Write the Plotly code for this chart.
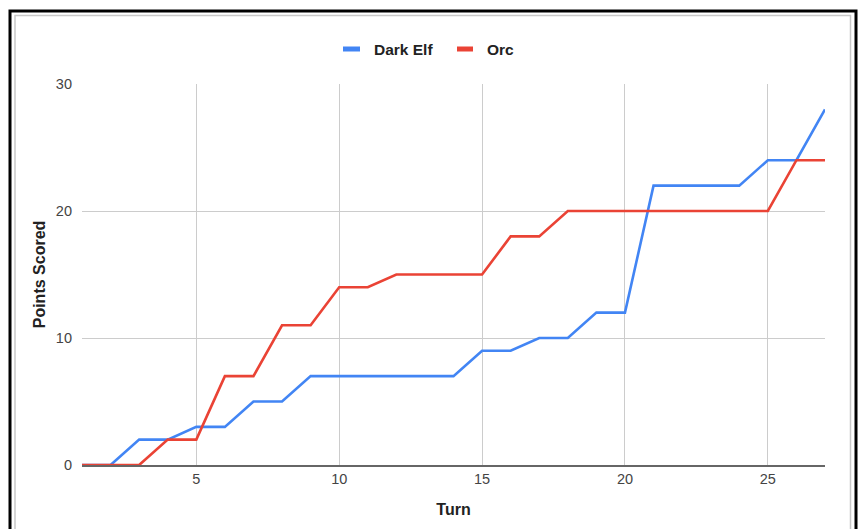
import plotly.graph_objects as go

turns = list(range(1, 28))
dark_elf = [0, 0, 2, 2, 3, 3, 5, 5, 7, 7, 7, 7, 7, 7, 9, 9, 10, 10, 12, 12, 22, 22, 22, 22, 24, 24, 28]
orc = [0, 0, 0, 2, 2, 7, 7, 11, 11, 14, 14, 15, 15, 15, 15, 18, 18, 20, 20, 20, 20, 20, 20, 20, 20, 24, 24]
series_names = ["Dark Elf", "Orc"]
series_colors = ["#4285F4", "#EA4335"]
x_ticks = [5, 10, 15, 20, 25]
y_ticks = [0, 10, 20, 30]

W, H = 861, 529
L, R, T, B = 82, 36, 84, 64
pw, ph = W - L - R, H - T - B

def px(x):
    return (x - L) / pw

def py(y):
    return (H - B - y) / ph

fig = go.Figure()
for name, vals, col in zip(series_names, [dark_elf, orc], series_colors):
    fig.add_trace(go.Scatter(x=turns, y=vals, mode="lines", name=name,
                             line=dict(color=col, width=2.6), showlegend=False))

font = "Liberation Sans, Arial, sans-serif"
fig.update_layout(
    width=W, height=H,
    margin=dict(l=L, r=R, t=T, b=B),
    paper_bgcolor="white", plot_bgcolor="white",
    font=dict(family=font, size=13, color="#444444"),
    showlegend=False,
    xaxis=dict(range=[1, 27], tickvals=x_ticks, showgrid=True, gridcolor="#cccccc",
               gridwidth=1, zeroline=False, showline=True, linecolor="#666666",
               linewidth=2, ticks="", tickfont=dict(size=14.5, color="#444444"),
               title=dict(text="<b>Turn</b>", font=dict(size=16, color="#222222"), standoff=17)),
    yaxis=dict(range=[0, 30], tickvals=y_ticks, showgrid=True, gridcolor="#cccccc",
               gridwidth=1, zeroline=False, showline=False, ticks="",
               ticklabelstandoff=9,
               tickfont=dict(size=14.5, color="#444444"),
               title=dict(text="<b>Points Scored</b>", font=dict(size=16, color="#222222"), standoff=6)),
)

# custom legend (short swatches like the original)
swatch_x = [(343, 360), (457, 473)]
label_x = [372, 485]
for (x0, x1), lx, name, col in zip(swatch_x, label_x, series_names, series_colors):
    fig.add_shape(type="line", xref="paper", yref="paper",
                  x0=px(x0), x1=px(x1), y0=py(49), y1=py(49),
                  line=dict(color=col, width=5))
    fig.add_annotation(xref="paper", yref="paper", x=px(lx), y=py(49.5),
                       xanchor="left", yanchor="middle", showarrow=False,
                       text="<b>%s</b>" % name,
                       font=dict(family=font, size=15.5, color="#222222"))

# document border (black) and chart card border (gray)
fig.add_shape(type="rect", xref="paper", yref="paper",
              x0=px(10), x1=px(856), y0=py(545), y1=py(11),
              line=dict(color="black", width=3), layer="above")
fig.add_shape(type="rect", xref="paper", yref="paper",
              x0=px(15), x1=px(850.5), y0=py(545), y1=py(15.5),
              line=dict(color="#c8c8c8", width=1.5), layer="above")

fig.write_html("out.html")
